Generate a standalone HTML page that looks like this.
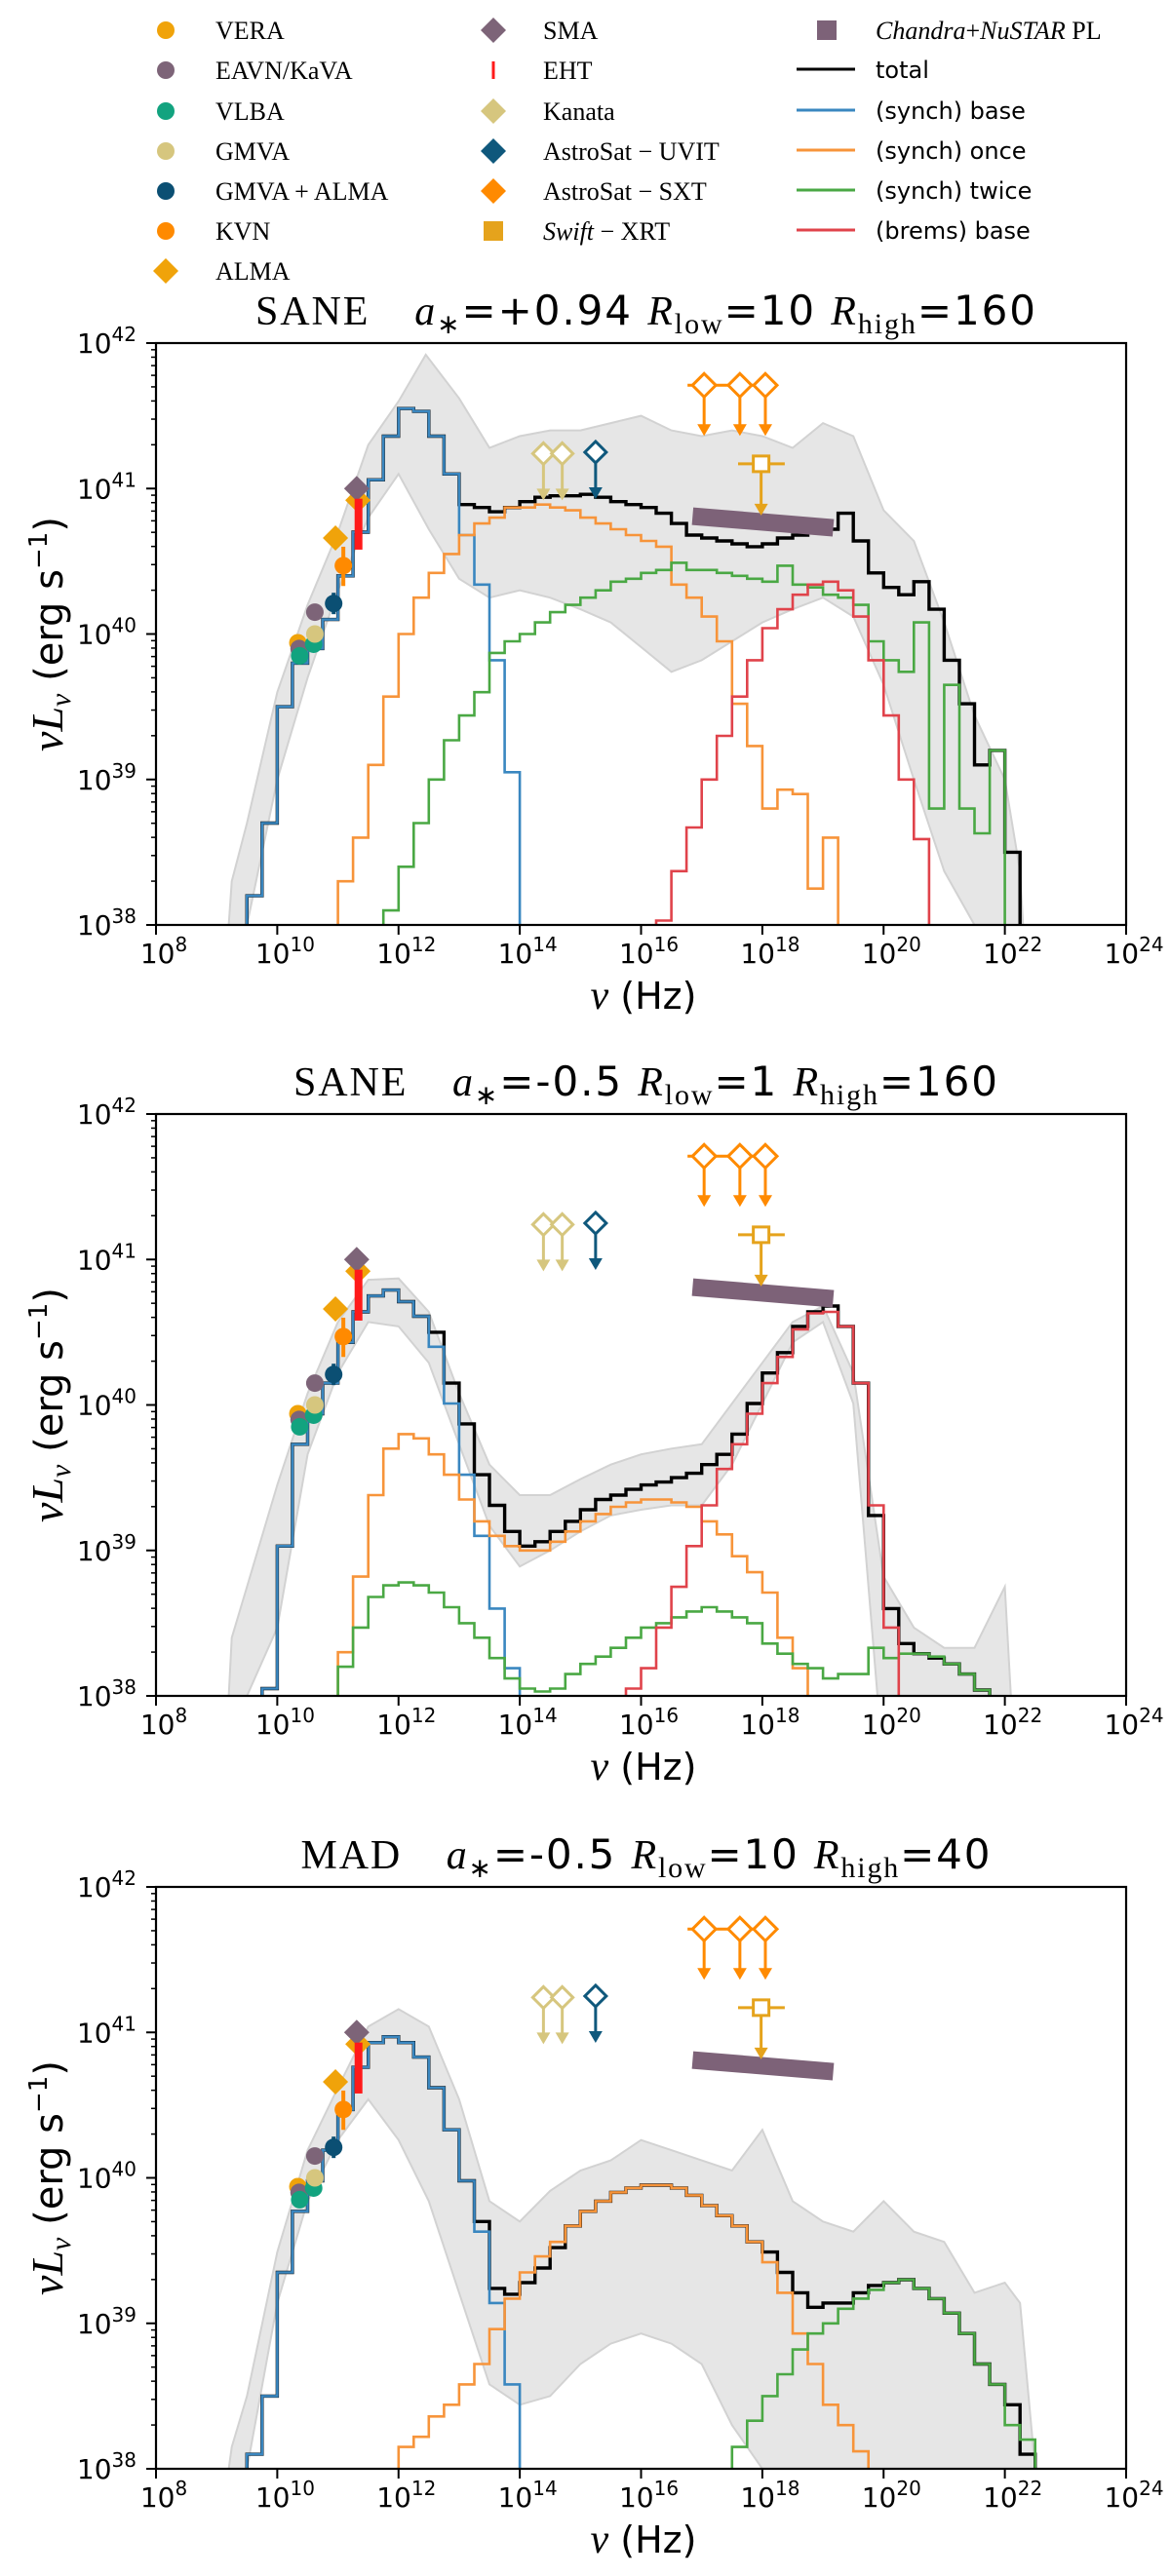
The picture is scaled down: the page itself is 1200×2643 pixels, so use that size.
<!DOCTYPE html>
<html><head><meta charset="utf-8"><title>SED panels</title>
<style>
html,body{margin:0;padding:0;background:#fff;}
svg{display:block;}
.sans{font-family:"DejaVu Sans","Liberation Sans",sans-serif;}
.serif{font-family:"Liberation Serif","DejaVu Serif",serif;}
</style></head>
<body>
<svg id="fig" xmlns="http://www.w3.org/2000/svg" width="1200" height="2643" viewBox="0 0 1200 2643">
<rect x="0" y="0" width="1200" height="2643" fill="#fff"/>
<g id="legend"></g>
<g id="panels"></g>
</svg>
<script>
// ---------- data ----------
const BIN = 0.25;
// Panel 1: SANE a*=+0.94 Rlow=10 Rhigh=160
const p1TotalStart = 9.5;
const p1Total = [38.2,38.7,39.5,39.8,39.9,40.1,40.4,40.7,41.06,41.36,41.55,41.53,41.36,41.1,40.89,40.87,40.84,40.87,40.91,40.94,40.95,40.95,40.96,40.94,40.91,40.89,40.87,40.83,40.76,40.68,40.66,40.64,40.62,40.6,40.62,40.66,40.68,40.7,40.72,40.83,40.64,40.42,40.32,40.27,40.36,40.17,39.82,39.52,39.1,39.2,38.5];
const p1BaseStart = 9.5;
const p1Base = [38.2,38.7,39.5,39.8,39.9,40.1,40.4,40.7,41.06,41.36,41.55,41.53,41.36,41.1,40.68,40.34,39.82,39.05];
const p1OnceStart = 11.0;
const p1Once = [38.3,38.6,39.1,39.57,40.0,40.25,40.42,40.55,40.68,40.76,40.8,40.87,40.87,40.89,40.87,40.85,40.8,40.76,40.72,40.68,40.64,40.6,40.34,40.25,40.12,39.95,39.52,39.23,38.8,38.93,38.9,38.25,38.6];
const p1TwiceStart = 11.75;
const p1Twice = [38.1,38.4,38.7,39.0,39.27,39.44,39.6,39.87,39.95,40.0,40.08,40.15,40.2,40.25,40.3,40.36,40.38,40.42,40.44,40.49,40.44,40.44,40.42,40.4,40.38,40.36,40.47,40.34,40.32,40.27,40.25,40.2,39.95,39.82,39.74,40.08,38.8,39.65,38.8,38.63,39.2];
const p1BremsStart = 16.25;
const p1Brems = [38.03,38.37,38.67,39.0,39.3,39.57,39.82,40.04,40.17,40.27,40.34,40.36,40.3,40.12,39.82,39.44,39.0,38.59];
const p1BandUpNu = [9.2,9.25,9.5,10,10.5,11,11.5,12,12.45,13,13.5,14,14.5,15,15.5,16,16.5,17,17.5,18,18.5,19,19.5,20,20.5,21,21.5,22,22.25,22.3];
const p1BandUp = [38,38.3,38.7,39.6,40.2,40.7,41.3,41.6,41.92,41.62,41.28,41.36,41.4,41.4,41.45,41.5,41.4,41.36,41.4,41.36,41.28,41.45,41.36,40.85,40.64,40.08,39.44,39.0,38.37,38];
const p1BandLoNu = [9.5,10,10.5,11,11.5,12,12.5,13,13.5,14,14.5,15,15.5,16,16.5,17,17.5,18,18.5,19,19.5,20,20.5,21,21.5];
const p1BandLo = [38,39.0,39.7,40.3,40.8,41.1,40.72,40.38,40.25,40.3,40.25,40.17,40.08,39.91,39.74,39.82,39.95,40.08,40.17,40.25,40.12,39.65,39.0,38.37,38];

// Panel 2: SANE a*=-0.5 Rlow=1 Rhigh=160
const p2TotalStart = 9.75;
const p2Total = [38.05,39.03,39.73,39.94,40.15,40.43,40.64,40.75,40.79,40.71,40.61,40.5,40.15,39.87,39.52,39.31,39.13,39.03,39.06,39.13,39.2,39.28,39.35,39.38,39.42,39.45,39.47,39.5,39.53,39.59,39.66,39.8,40.01,40.22,40.36,40.54,40.64,40.68,40.54,40.15,39.24,38.6,38.36,38.29,38.26,38.22,38.15,38.04];
const p2BaseStart = 9.75;
const p2Base = [38.05,39.03,39.73,39.94,40.15,40.43,40.64,40.75,40.79,40.71,40.61,40.4,40.01,39.52,39.1,38.6,38.19];
const p2OnceStart = 11.0;
const p2Once = [38.3,38.82,39.38,39.7,39.8,39.77,39.66,39.52,39.35,39.2,39.1,39.03,39.0,39.0,39.06,39.13,39.2,39.25,39.3,39.33,39.35,39.35,39.33,39.3,39.2,39.11,38.96,38.85,38.71,38.4,38.19];
const p2TwiceStart = 11.0;
const p2Twice = [38.2,38.47,38.68,38.76,38.78,38.76,38.71,38.61,38.5,38.4,38.26,38.12,38.05,38.03,38.05,38.15,38.22,38.27,38.33,38.4,38.47,38.5,38.54,38.58,38.61,38.58,38.54,38.5,38.36,38.29,38.22,38.19,38.12,38.15,38.15,38.33,38.26,38.29,38.29,38.27,38.22,38.15,38.04];
const p2BremsStart = 15.75;
const p2Brems = [38.05,38.19,38.47,38.75,39.03,39.31,39.56,39.73,39.94,40.15,40.33,40.52,40.63,40.64,40.54,40.15,39.31,38.47];
const p2BandUpNu = [9.2,9.25,9.5,10,10.5,11,11.5,12,12.5,13,13.5,14,14.5,15,15.5,16,16.5,17,17.5,18,18.5,19,19.5,20,20.5,21,21.5,22,22.1];
const p2BandUp = [38,38.4,38.75,39.45,40.08,40.57,40.86,40.87,40.64,40.08,39.59,39.38,39.38,39.49,39.59,39.66,39.7,39.73,40.01,40.29,40.57,40.68,40.22,38.82,38.47,38.33,38.33,38.75,38];
const p2BandLoNu = [9.5,10,10.5,11,11.5,12,12.5,13,13.5,14,14.5,15,15.5,16,16.5,17,17.5,18,18.5,19,19.5,19.9];
const p2BandLo = [38,38.47,39.66,40.22,40.57,40.54,40.29,39.73,39.17,38.89,39.0,39.13,39.24,39.28,39.31,39.31,39.59,40.01,40.43,40.57,40.01,38];

// Panel 3: MAD a*=-0.5 Rlow=10 Rhigh=40
const p3TotalStart = 9.5;
const p3Total = [38.1,38.5,39.35,39.77,39.98,40.19,40.47,40.76,40.93,40.97,40.93,40.83,40.62,40.33,39.98,39.7,39.24,39.2,39.28,39.38,39.52,39.67,39.77,39.84,39.9,39.93,39.95,39.95,39.93,39.88,39.81,39.74,39.67,39.56,39.49,39.35,39.21,39.11,39.14,39.14,39.21,39.26,39.28,39.3,39.24,39.17,39.07,38.93,38.72,38.58,38.44,38.1];
const p3BaseStart = 9.5;
const p3Base = [38.1,38.5,39.35,39.77,39.98,40.19,40.47,40.76,40.93,40.97,40.93,40.83,40.62,40.33,39.98,39.63,39.14,38.58];
const p3OnceStart = 12.0;
const p3Once = [38.15,38.22,38.36,38.44,38.58,38.72,38.96,39.17,39.35,39.46,39.56,39.67,39.77,39.84,39.9,39.93,39.95,39.95,39.93,39.88,39.81,39.74,39.67,39.56,39.42,39.21,38.93,38.72,38.44,38.3,38.12];
const p3TwiceStart = 17.5;
const p3Twice = [38.15,38.33,38.5,38.65,38.82,38.93,39.0,39.1,39.17,39.23,39.28,39.3,39.24,39.17,39.07,38.93,38.72,38.58,38.3,38.2];
const p3BremsStart = 0;
const p3Brems = [];
const p3BandUpNu = [9.2,9.25,9.5,10,10.5,11,11.5,12,12.5,13,13.5,14,14.5,15,15.5,16,16.5,17,17.5,18,18.5,19,19.5,20,20.5,21,21.5,22,22.25,22.5];
const p3BandUp = [38,38.15,38.5,39.49,40.19,40.62,41.04,41.16,41.04,40.54,39.84,39.7,39.91,40.05,40.12,40.26,40.19,40.12,40.05,40.33,39.84,39.7,39.63,39.84,39.63,39.56,39.21,39.28,39.14,38];
const p3BandLoNu = [9.5,10,10.5,11,11.5,12,12.5,13,13.5,14,14.5,15,15.5,16,16.5,17,17.5,18];
const p3BandLo = [38,39.14,39.84,40.26,40.54,40.26,39.84,39.21,38.58,38.44,38.5,38.72,38.86,38.93,38.86,38.72,38.3,38];

// Observations (log nu, log nuLnu)
const veraPts = [[10.34,39.94]];
const eavnPts = [[10.36,39.9],[10.62,40.15]];
const vlbaPts = [[10.37,39.85],[10.6,39.93]];
const gmvaPts = [[10.62,40.0]];
const gmvaAlmaPts = [[10.93,40.21]];
const kvnPts = [[11.09,40.47]];
const kvnErr = [[40.33,40.6]];
const almaPts = [[10.96,40.66],[11.33,40.92]];
const smaPts = [[11.31,41.0]];
const ehtNu = [11.34];
const ehtRange = [[40.58,40.93]];
const kanataNu = [14.39,14.7];
const kanataLim = [41.24,41.24];
const uvitNu = [15.25];
const uvitLim = [41.25];
const sxtNu = [17.04,17.63,18.05];
const sxtLim = [41.71,41.71,41.71];
const xrtNu = [17.98];
const xrtLim = [41.17];
const xrtNuRange = [[17.6,18.37]];
const plNu = [16.85,19.17];
const plVal = [40.81,40.73];

// ---------- drawing ----------
const NS = "http://www.w3.org/2000/svg";
const X0 = 160, X1 = 1155, NUMIN = 8, NUMAX = 24, LMIN = 38, LMAX = 42;
const C = {base:"#3a87c0", once:"#f7943a", twice:"#4aa844", brems:"#e0434b", total:"#000",
  vera:"#f0a30a", eavn:"#7d6478", vlba:"#12a37f", gmva:"#d6c67e", gmvaAlma:"#0b4f73", kvn:"#ff8a00",
  alma:"#f0a30a", sma:"#7d6478", eht:"#ff1a1a", kanata:"#d6c67e", uvit:"#0f587c", sxt:"#ff8a00", xrt:"#e5a31c", pl:"#7d6278"};
function el(tag, attrs, parent){ const e=document.createElementNS(NS,tag); for(const k in attrs) e.setAttribute(k,attrs[k]); if(parent) parent.appendChild(e); return e; }

const panels = [
  {top:352, title:["SANE","+0.94","10","160"], tlen:800, cx:662, tot:[p1TotalStart,p1Total], base:[p1BaseStart,p1Base], once:[p1OnceStart,p1Once], twice:[p1TwiceStart,p1Twice], brems:[p1BremsStart,p1Brems], bu:[p1BandUpNu,p1BandUp], bl:[p1BandLoNu,p1BandLo]},
  {top:1143, title:["SANE","-0.5","1","160"], tlen:722, cx:662, tot:[p2TotalStart,p2Total], base:[p2BaseStart,p2Base], once:[p2OnceStart,p2Once], twice:[p2TwiceStart,p2Twice], brems:[p2BremsStart,p2Brems], bu:[p2BandUpNu,p2BandUp], bl:[p2BandLoNu,p2BandLo]},
  {top:1936, title:["MAD","-0.5","10","40"], tlen:707, cx:662, tot:[p3TotalStart,p3Total], base:[p3BaseStart,p3Base], once:[p3OnceStart,p3Once], twice:[p3TwiceStart,p3Twice], brems:[p3BremsStart,p3Brems], bu:[p3BandUpNu,p3BandUp], bl:[p3BandLoNu,p3BandLo]}
];
const H = 597;
const svg = document.getElementById('fig');
const pg = document.getElementById('panels');

panels.forEach((P, pi) => {
  const xs = v => X0 + (v - NUMIN) / (NUMAX - NUMIN) * (X1 - X0);
  const ys = v => P.top + (LMAX - v) / (LMAX - LMIN) * H;
  const bot = P.top + H;
  const g = el('g', {}, pg);
  
  
  const cid = 'clip' + pi;
  const defs = el('defs', {}, g);
  const cp = el('clipPath', {id: cid}, defs);
  el('rect', {x: X0, y: P.top, width: X1 - X0, height: H}, cp);
  const plot = el('g', {'clip-path': 'url(#' + cid + ')'}, g);

  // band
  let pts = P.bu[0].map((n, i) => xs(n).toFixed(1) + ',' + ys(P.bu[1][i]).toFixed(1));
  for (let i = P.bl[0].length - 1; i >= 0; i--) pts.push(xs(P.bl[0][i]).toFixed(1) + ',' + ys(P.bl[1][i]).toFixed(1));
  const band = el('polygon', {points: pts.join(' '), fill: '#e6e6e6', stroke: '#d2d2d2', 'stroke-width': 2}, plot);
  
  

  function step(series, color, name, w){
    const start = series[0], vals = series[1];
    if (!vals.length) return;
    let d = 'M' + xs(start).toFixed(1) + ',' + (bot + 5);
    vals.forEach((v, i) => {
      d += ' L' + xs(start + i * BIN).toFixed(1) + ',' + ys(v).toFixed(1);
      d += ' L' + xs(start + (i + 1) * BIN).toFixed(1) + ',' + ys(v).toFixed(1);
    });
    d += ' L' + xs(start + vals.length * BIN).toFixed(1) + ',' + (bot + 5);
    const p = el('path', {d: d, fill: 'none', stroke: color, 'stroke-width': w, 'stroke-linejoin': 'miter'}, plot);
    
    
  }
  step(P.tot, C.total, 'total-line', 3.4);
  step(P.base, C.base, 'synch-base-line', 2.6);
  step(P.once, C.once, 'synch-once-line', 2.6);
  step(P.twice, C.twice, 'synch-twice-line', 2.6);
  step(P.brems, C.brems, 'brems-base-line', 2.6);

  // observations
  const obs = el('g', {}, plot);
  
  
  function circ(list, color, name){ list.forEach(p => { const c = el('circle', {cx: xs(p[0]), cy: ys(p[1]), r: 9, fill: color}, obs);   }); }
  function diam(x, y, s, color, fill, name){ const d = el('polygon', {points: `${x},${y-s} ${x+s},${y} ${x},${y+s} ${x-s},${y}`, fill: fill ? color : '#fff', stroke: color, 'stroke-width': fill ? 0 : 3}, obs);   }
  function arrow(x, y1, y2, color){ el('line', {x1: x, y1: y1, x2: x, y2: y2 - 10, stroke: color, 'stroke-width': 3}, obs); el('polygon', {points: `${x-7},${y2-12} ${x+7},${y2-12} ${x},${y2}`, fill: color}, obs); }
  // Chandra PL
  const pl = el('line', {x1: xs(plNu[0]), y1: ys(plVal[0]), x2: xs(plNu[1]), y2: ys(plVal[1]), stroke: C.pl, 'stroke-width': 18}, obs);
  
  
  circ(veraPts, C.vera, 'vera-point');
  circ(eavnPts, C.eavn, 'eavn-point');
  circ(vlbaPts, C.vlba, 'vlba-point');
  circ(gmvaPts, C.gmva, 'gmva-point');
  gmvaAlmaPts.forEach(p => el('line', {x1: xs(p[0]), x2: xs(p[0]), y1: ys(p[1]) - 11, y2: ys(p[1]) + 11, stroke: C.gmvaAlma, 'stroke-width': 4}, obs));
  circ(gmvaAlmaPts, C.gmvaAlma, 'gmva-alma-point');
  kvnPts.forEach((p, i) => el('line', {x1: xs(p[0]), x2: xs(p[0]), y1: ys(kvnErr[i][1]), y2: ys(kvnErr[i][0]), stroke: C.kvn, 'stroke-width': 4}, obs));
  circ(kvnPts, C.kvn, 'kvn-point');
  almaPts.forEach(p => diam(xs(p[0]), ys(p[1]), 13, C.alma, true, 'alma-point'));
  smaPts.forEach(p => diam(xs(p[0]), ys(p[1]), 13, C.sma, true, 'sma-point'));
  ehtNu.forEach((n, i) => { const r = el('rect', {x: xs(n) - 4, y: ys(ehtRange[i][1]), width: 8, height: ys(ehtRange[i][0]) - ys(ehtRange[i][1]), fill: C.eht}, obs);   });
  kanataNu.forEach((n, i) => { arrow(xs(n), ys(kanataLim[i]) + 10, ys(kanataLim[i]) + 48, C.kanata); diam(xs(n), ys(kanataLim[i]), 11, C.kanata, false, 'kanata-upper-limit'); });
  uvitNu.forEach((n, i) => { arrow(xs(n), ys(uvitLim[i]) + 10, ys(uvitLim[i]) + 48, C.uvit); diam(xs(n), ys(uvitLim[i]), 11, C.uvit, false, 'astrosat-uvit-upper-limit'); });
  el('line', {x1: xs(sxtNu[0]) - 17, x2: xs(sxtNu[2]), y1: ys(sxtLim[0]), y2: ys(sxtLim[0]), stroke: C.sxt, 'stroke-width': 3}, obs);
  sxtNu.forEach((n, i) => { arrow(xs(n), ys(sxtLim[i]) + 10, ys(sxtLim[i]) + 52, C.sxt); diam(xs(n), ys(sxtLim[i]), 12, C.sxt, false, 'astrosat-sxt-upper-limit'); });
  xrtNu.forEach((n, i) => {
    const x = xs(n), y = ys(xrtLim[i]);
    el('line', {x1: xs(xrtNuRange[i][0]), x2: xs(xrtNuRange[i][1]), y1: y, y2: y, stroke: C.xrt, 'stroke-width': 3}, obs);
    arrow(x, y + 8, y + 53, C.xrt);
    const s = el('rect', {x: x - 8, y: y - 8, width: 16, height: 16, fill: '#fff', stroke: C.xrt, 'stroke-width': 3}, obs);
     
  });

  // frame
  const fr = el('rect', {x: X0, y: P.top, width: X1 - X0, height: H, fill: 'none', stroke: '#000', 'stroke-width': 2.2}, g);
  
  
  // y ticks
  const yax = el('g', {}, g);
  
  
  for (let e = 38; e <= 42; e++) {
    const y = ys(e);
    el('line', {x1: X0 - 10, x2: X0, y1: y, y2: y, stroke: '#000', 'stroke-width': 2}, yax);
    const t = el('text', {x: 140, y: y + 10, 'text-anchor': 'end', 'font-size': 28, class: 'sans'}, yax);
    
    
    t.innerHTML = '10<tspan dy="-12" font-size="20">' + e + '</tspan>';
    if (e < 42) for (let m = 2; m <= 9; m++) { const ym = ys(e + Math.log10(m)); el('line', {x1: X0 - 5, x2: X0, y1: ym, y2: ym, stroke: '#000', 'stroke-width': 1.5}, yax); }
  }
  // x ticks
  const xax = el('g', {}, g);
  
  
  for (let e = 8; e <= 24; e += 2) {
    const x = xs(e);
    el('line', {x1: x, x2: x, y1: bot, y2: bot + 10, stroke: '#000', 'stroke-width': 2}, xax);
    const t = el('text', {x: x + 8, y: bot + 39, 'text-anchor': 'middle', 'font-size': 28, class: 'sans'}, xax);
    
    
    t.innerHTML = '10<tspan dy="-12" font-size="20">' + e + '</tspan>';
  }
  // axis labels
  const xl = el('text', {x: 660, y: bot + 86, 'text-anchor': 'middle', 'font-size': 38, class: 'sans'}, g);
  
  
  xl.innerHTML = '<tspan font-family="Liberation Serif, serif" font-style="italic" font-size="42">ν</tspan> (Hz)';
  const yl = el('text', {x: 0, y: 0, 'text-anchor': 'middle', 'font-size': 40, class: 'sans', transform: `translate(64,${P.top + H/2}) rotate(-90)`}, g);
  
  
  yl.innerHTML = '<tspan font-family="Liberation Serif, serif" font-style="italic" font-size="46">νL</tspan><tspan font-family="Liberation Serif, serif" font-style="italic" font-size="30" dy="8">ν</tspan><tspan dy="-8"> (erg s</tspan><tspan font-size="26" dy="-16">−1</tspan><tspan dy="16">)</tspan>';
  // title
  const T = P.title;
  const tt = el('text', {x: P.cx, y: P.top - 19, 'text-anchor': 'middle', 'font-size': 42, class: 'sans', textLength: P.tlen, lengthAdjust: 'spacing'}, g);
  
  
  tt.innerHTML = `<tspan font-family="Liberation Serif, serif">${T[0]}</tspan><tspan xml:space="preserve">   </tspan><tspan font-family="Liberation Serif, serif" font-style="italic">a</tspan><tspan font-size="28" dy="9">∗</tspan><tspan dy="-9">=${T[1]} </tspan><tspan font-family="Liberation Serif, serif" font-style="italic">R</tspan><tspan font-family="Liberation Serif, serif" font-size="30" dy="9">low</tspan><tspan dy="-9">=${T[2]} </tspan><tspan font-family="Liberation Serif, serif" font-style="italic">R</tspan><tspan font-family="Liberation Serif, serif" font-size="30" dy="9">high</tspan><tspan dy="-9">=${T[3]}</tspan>`;
});

// ---------- legend ----------
const lg = document.getElementById('legend');
const rowY = [31, 72, 114, 155, 196, 237, 278];
const col1 = [['VERA','circle',C.vera],['EAVN/KaVA','circle',C.eavn],['VLBA','circle',C.vlba],['GMVA','circle',C.gmva],['GMVA + ALMA','circle',C.gmvaAlma],['KVN','circle',C.kvn],['ALMA','diamond',C.alma]];
const col2 = [['SMA','diamond',C.sma],['EHT','bar',C.eht],['Kanata','diamond',C.kanata],['AstroSat − UVIT','diamond',C.uvit],['AstroSat − SXT','diamond',C.sxt],['Swift − XRT','square',C.xrt]];
function legMarker(x, y, kind, color){
  if (kind === 'circle') el('circle', {cx: x, cy: y, r: 9, fill: color}, lg);
  else if (kind === 'diamond') el('polygon', {points: `${x},${y-13} ${x+13},${y} ${x},${y+13} ${x-13},${y}`, fill: color}, lg);
  else if (kind === 'bar') el('rect', {x: x - 1.5, y: y - 9, width: 3, height: 18, fill: color}, lg);
  else el('rect', {x: x - 10, y: y - 10, width: 20, height: 20, fill: color}, lg);
}
function legEntry(mx, tx, y, item){
  const g = el('g', {}, lg);
  
  
  legMarker(mx, y, item[1], item[2]);
  const t = el('text', {x: tx, y: y + 9, 'font-size': 26, class: 'serif'}, lg);
  if (item[0].indexOf('Swift') === 0) t.innerHTML = '<tspan font-style="italic">Swift</tspan> − XRT';
  else t.textContent = item[0];
}
col1.forEach((it, i) => legEntry(170, 221, rowY[i], it));
col2.forEach((it, i) => legEntry(506, 557, rowY[i], it));
// column 3
el('rect', {x: 838, y: 21, width: 20, height: 20, fill: C.pl}, lg);
const plT = el('text', {x: 898, y: 40, 'font-size': 26, class: 'serif'}, lg);


plT.innerHTML = '<tspan font-style="italic">Chandra</tspan>+<tspan font-style="italic">NuSTAR</tspan> PL';
const col3 = [['total',C.total],['(synch) base',C.base],['(synch) once',C.once],['(synch) twice',C.twice],['(brems) base',C.brems]];
col3.forEach((it, i) => {
  const y = rowY[i + 1] - 1;
  const g = el('g', {}, lg);
  
  
  el('line', {x1: 817, x2: 877, y1: y, y2: y, stroke: it[1], 'stroke-width': 3}, g);
  const t = el('text', {x: 898, y: y + 9, 'font-size': 24, class: 'sans'}, g);
  t.textContent = it[0];
});
</script>
</body></html>
